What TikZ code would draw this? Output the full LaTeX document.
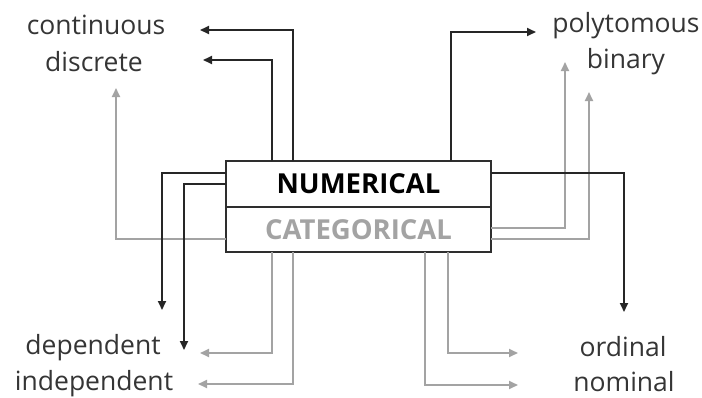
\documentclass[tikz,border=0pt]{standalone}
\usepackage{fontspec}
\setmainfont{Open Sans}
\usetikzlibrary{arrows.meta}
\definecolor{ink}{HTML}{353535}
\definecolor{frame}{HTML}{2E2E2E}
\definecolor{soft}{HTML}{A3A3A3}
\tikzset{
  lbl/.style={text=ink, font=\fontsize{26.5}{28}\selectfont, inner sep=0pt},
  half/.style={draw=frame, line width=1.8pt, minimum width=265pt, inner sep=0pt, outer sep=0pt,
               font=\bfseries\fontsize{27.5}{29}\selectfont},
  blk/.style={draw=black!85, line width=1.8pt, -{Triangle[length=9pt,width=8pt]}},
  gry/.style={draw=soft, line width=1.8pt, -{Triangle[length=9pt,width=8pt]}},
}
\begin{document}
\begin{tikzpicture}[x=1pt,y=-1pt]
  \useasboundingbox (0,0) rectangle (702,397);

  % category labels
  \node[lbl] (cont)  at (96,25)   {continuous};
  \node[lbl] (disc)  at (94,62)   {discrete};
  \node[lbl] (poly)  at (626,26)  {polytomous};
  \node[lbl] (bin)   at (626,62)  {binary};
  \node[lbl] (dep)   at (93,348)  {dependent};
  \node[lbl] (indep) at (94,384)  {independent};
  \node[lbl] (ord)   at (623,347) {ordinal};
  \node[lbl] (nom)   at (624,382) {nominal};

  % the two-part box
  \node[half, minimum height=46pt, text=black] (num) at (358.5,184) {NUMERICAL};
  \node[half, minimum height=45pt, text=soft, anchor=north] (cat) at (num.south) {CATEGORICAL};

  % bends and free ends of the connectors
  \coordinate (kCont) at (293,30);   \coordinate (tCont) at (200,30);
  \coordinate (kDisc) at (272,60);   \coordinate (tDisc) at (203,60);
  \coordinate (kPoly) at (451,32);   \coordinate (tPoly) at (536,32);
  \coordinate (kOrd)  at (624,173);  \coordinate (tOrd)  at (624,312);
  \coordinate (kDep)  at (162,173);  \coordinate (tDep)  at (162,310);
  \coordinate (kInd)  at (184,184);  \coordinate (tInd)  at (184,350);

  \coordinate (gDisc) at (116,239);  \coordinate (uDisc) at (116,88);
  \coordinate (gPoly) at (565,228);  \coordinate (uPoly) at (565,62);
  \coordinate (gBin)  at (589,239);  \coordinate (uBin)  at (589,92);
  \coordinate (gDep)  at (272,353);  \coordinate (uDep)  at (200,353);
  \coordinate (gInd)  at (293,384);  \coordinate (uInd)  at (198,384);
  \coordinate (gOrd)  at (448,353);  \coordinate (uOrd)  at (518,353);
  \coordinate (gNom)  at (425,385);  \coordinate (uNom)  at (518,385);

  % categorical connectors (grey)
  \draw[gry] (cat.west |- gDisc) -- (gDisc) -- (uDisc);
  \draw[gry] (cat.east |- gPoly) -- (gPoly) -- (uPoly);
  \draw[gry] (cat.east |- gBin)  -- (gBin)  -- (uBin);
  \draw[gry] (cat.south -| gDep) -- (gDep)  -- (uDep);
  \draw[gry] (cat.south -| gInd) -- (gInd)  -- (uInd);
  \draw[gry] (cat.south -| gOrd) -- (gOrd)  -- (uOrd);
  \draw[gry] (cat.south -| gNom) -- (gNom)  -- (uNom);

  % numerical connectors (black)
  \draw[blk] (num.north -| kCont) -- (kCont) -- (tCont);
  \draw[blk] (num.north -| kDisc) -- (kDisc) -- (tDisc);
  \draw[blk] (num.north -| kPoly) -- (kPoly) -- (tPoly);
  \draw[blk] (num.east  |- kOrd)  -- (kOrd)  -- (tOrd);
  \draw[blk] (num.west  |- kDep)  -- (kDep)  -- (tDep);
  \draw[blk] (num.west  |- kInd)  -- (kInd)  -- (tInd);
\end{tikzpicture}
\end{document}
